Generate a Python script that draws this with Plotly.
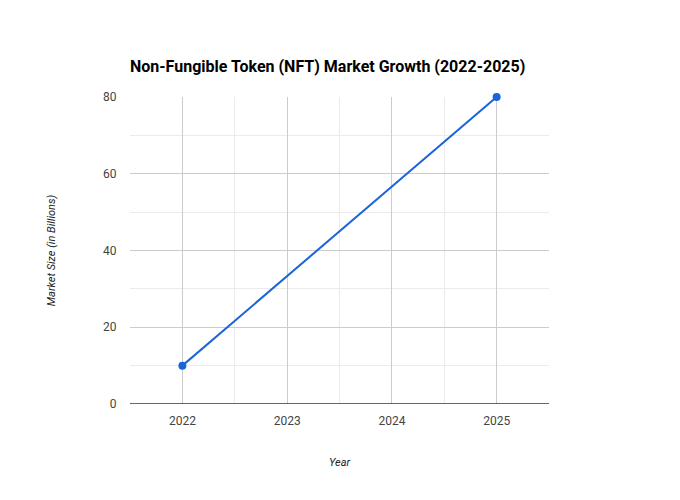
import plotly.graph_objects as go

years = [2022, 2025]
market_size = [10, 80]
x_ticks = [2022, 2023, 2024, 2025]
y_ticks = [0, 20, 40, 60, 80]

fig = go.Figure()
fig.add_trace(go.Scatter(
    x=years, y=market_size, mode="lines+markers",
    line=dict(color="#1a63d9", width=2),
    marker=dict(color="#1a63d9", size=8),
    cliponaxis=False,
    hoverinfo="x+y", showlegend=False,
))

fig.update_layout(
    width=680, height=500,
    margin=dict(l=130, r=131, t=97, b=96),
    paper_bgcolor="white", plot_bgcolor="white",
    font=dict(family="Roboto, Arial, sans-serif", size=12, color="#444"),
    title=dict(
        text="<b>Non-Fungible Token (NFT) Market Growth (2022-2025)</b>",
        x=130/680, xref="container", xanchor="left",
        y=1 - 66/500, yref="container", yanchor="middle",
        font=dict(family="Roboto, Arial, sans-serif", size=16, color="#000"),
    ),
    xaxis=dict(
        range=[2021.5, 2025.5], tickvals=x_ticks, ticktext=[str(v) for v in x_ticks],
        showgrid=True, gridcolor="#cccccc", gridwidth=1,
        minor=dict(dtick=0.5, tick0=2021.5, showgrid=True, gridcolor="#ebebeb", gridwidth=1),
        zeroline=False, showline=False,
        ticks="outside", ticklen=6, tickcolor="rgba(0,0,0,0)",
        title=dict(text="<i>Year</i>", standoff=30,
                   font=dict(size=11, color="#222")),
        fixedrange=True,
    ),
    yaxis=dict(
        range=[0, 80], tickvals=y_ticks,
        showgrid=True, gridcolor="#cccccc", gridwidth=1,
        minor=dict(dtick=10, tick0=0, showgrid=True, gridcolor="#ebebeb", gridwidth=1),
        zeroline=False, showline=False,
        ticks="outside", ticklen=10, tickcolor="rgba(0,0,0,0)",
        title=dict(text="<i>Market Size (in Billions)</i>", standoff=45,
                   font=dict(size=11, color="#222")),
        fixedrange=True,
    ),
    shapes=[dict(type="line", xref="paper", yref="y", x0=0, x1=1, y0=0, y1=0,
                 line=dict(color="#333333", width=1.5))],
)

fig.write_html("out.html")
